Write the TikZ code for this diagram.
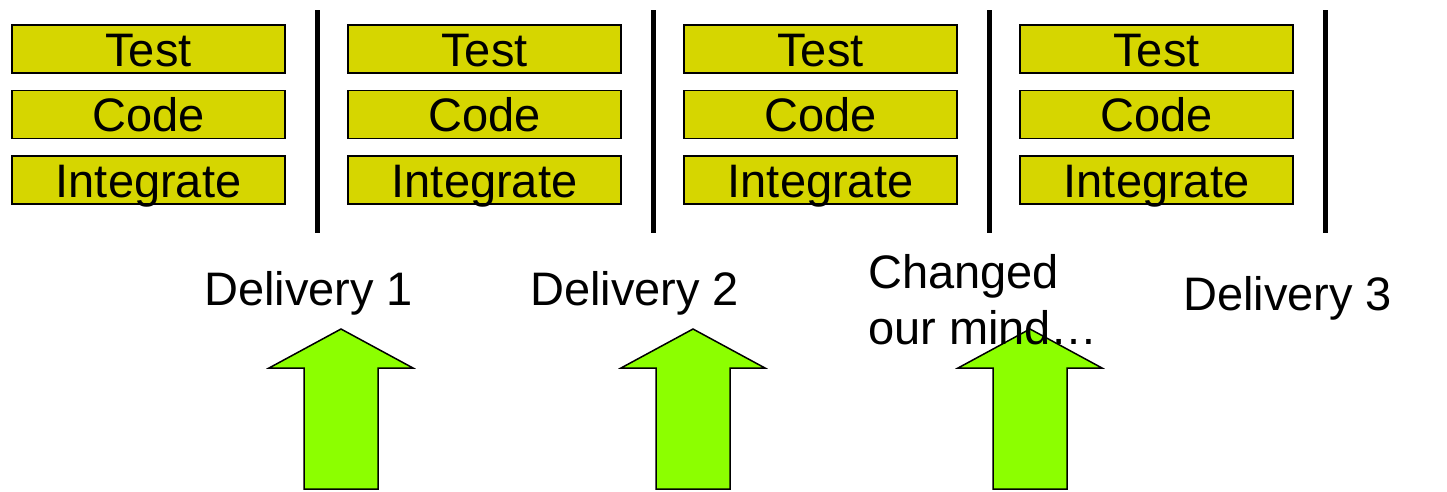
\documentclass[tikz,border=0pt]{standalone}
\usepackage{fontspec}
\setmainfont{Liberation Sans}
\usetikzlibrary{positioning}
\definecolor{boxyellow}{HTML}{D6D600}
\definecolor{arrowgreen}{HTML}{8CFF00}

\begin{document}
\begin{tikzpicture}[x=1pt,y=-1pt,
    stage/.style={draw=black,line width=1.5pt,fill=boxyellow,minimum width=273pt,minimum height=48pt,inner sep=0pt,text height=34pt,text depth=0pt,font=\fontsize{47}{56}\selectfont},
    deliv/.style={inner sep=0pt,font=\fontsize{47}{56}\selectfont},
    bigarrow/.style={draw=black,line width=1.5pt,fill=arrowgreen}]
  \useasboundingbox (0,0) rectangle (1447,491);
  % iterations and delivery bars
  \foreach \n in {1,...,4}{
    \node[stage] (test\n) at ({148.5+336*(\n-1)},49) {Test};
    \node[stage,below=16pt of test\n] (code\n) {Code};
    \node[stage,below=16pt of code\n] (int\n) {Integrate};
    \draw[line width=5pt] ({317+336*(\n-1)},10) -- ++(0,223);
  }
  % block arrows
  \foreach \x in {341,693,1030}{
    \draw[bigarrow] (\x,329) -- ++(72,39) -- ++(-35,0) -- ++(0,121) -- ++(-74,0) -- ++(0,-121) -- ++(-35,0) -- cycle;
  }
  \node[deliv,anchor=base west] (del1) at (204,305) {Delivery 1};
  \node[deliv,anchor=base west] (del2) at (530,305) {Delivery 2};
  \node[deliv,anchor=north west,align=left] (changed) at (868,254) {Changed\\our mind…};
  \node[deliv,anchor=base west] (del3) at (1183,310) {Delivery 3};
\end{tikzpicture}
\end{document}
